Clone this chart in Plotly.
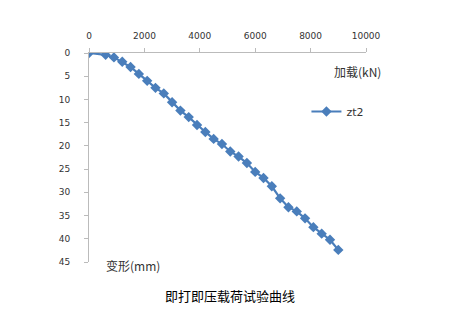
import plotly.graph_objects as go

load_kN = [0, 600, 900, 1200, 1500, 1800, 2100, 2400, 2700, 3000, 3300, 3600, 3900, 4200,
           4500, 4800, 5100, 5400, 5700, 6000, 6300, 6600, 6900, 7200, 7500, 7800, 8100,
           8400, 8700, 9000]
settle_mm = [0, 0.4, 0.95, 1.9, 3.0, 4.5, 6.0, 7.5, 8.7, 10.6, 12.4, 13.8, 15.5, 17.0,
             18.5, 19.6, 21.2, 22.3, 23.7, 25.6, 26.9, 28.7, 31.3, 33.2, 34.1, 35.6, 37.5,
             38.9, 40.2, 42.4]
series_name = "zt2"
x_ticks = [0, 2000, 4000, 6000, 8000, 10000]
x_tick_labels = ["0", "2000", "4000", "6000", "8000", "10000"]
y_ticks = [0, 5, 10, 15, 20, 25, 30, 35, 40, 45]

blue = "#4A7EBB"
fig = go.Figure()
fig.add_trace(go.Scatter(
    x=load_kN, y=settle_mm, name=series_name, mode="lines+markers",
    line=dict(color=blue, width=2.2),
    marker=dict(symbol="diamond", size=8, color=blue),
))

tickfont = dict(family="DejaVu Sans", size=9, color="#333333")
fig.update_layout(
    width=451, height=323,
    margin=dict(l=89, r=85, t=53, b=61),
    paper_bgcolor="white", plot_bgcolor="white",
    showlegend=True,
    legend=dict(x=0.785, y=0.72, xanchor="left", yanchor="middle",
                font=dict(family="DejaVu Sans", size=11, color="#333333"),
                bgcolor="rgba(0,0,0,0)", itemwidth=30),
    xaxis=dict(side="top", range=[0, 10000], tickvals=x_ticks, ticktext=x_tick_labels,
               showgrid=False, zeroline=False, showline=True, linecolor="#BBBBBB",
               linewidth=1, ticks="outside", ticklen=4, tickcolor="#BBBBBB",
               tickfont=tickfont, ticklabelstandoff=5),
    yaxis=dict(range=[45, 0], tickvals=y_ticks, showgrid=False, zeroline=False,
               showline=True, linecolor="#BBBBBB", linewidth=1,
               ticks="outside", ticklen=4, tickcolor="#BBBBBB", tickfont=tickfont,
               ticklabelstandoff=12),
    annotations=[
        dict(text="加载(kN)", xref="paper", yref="paper", x=1.06, y=0.91,
             xanchor="right", yanchor="middle", showarrow=False,
             font=dict(family="Noto Sans CJK SC", size=12, color="#333333")),
        dict(text="变形(mm)", xref="paper", yref="paper", x=0.055, y=-0.015,
             xanchor="left", yanchor="middle", showarrow=False,
             font=dict(family="Noto Sans CJK SC", size=12, color="#333333")),
        dict(text="即打即压载荷试验曲线", xref="paper", yref="paper", x=0.51, y=-0.16,
             xanchor="center", yanchor="middle", showarrow=False,
             font=dict(family="Noto Sans CJK SC", size=13, color="#000000")),
    ],
)
fig.write_html("out.html")
